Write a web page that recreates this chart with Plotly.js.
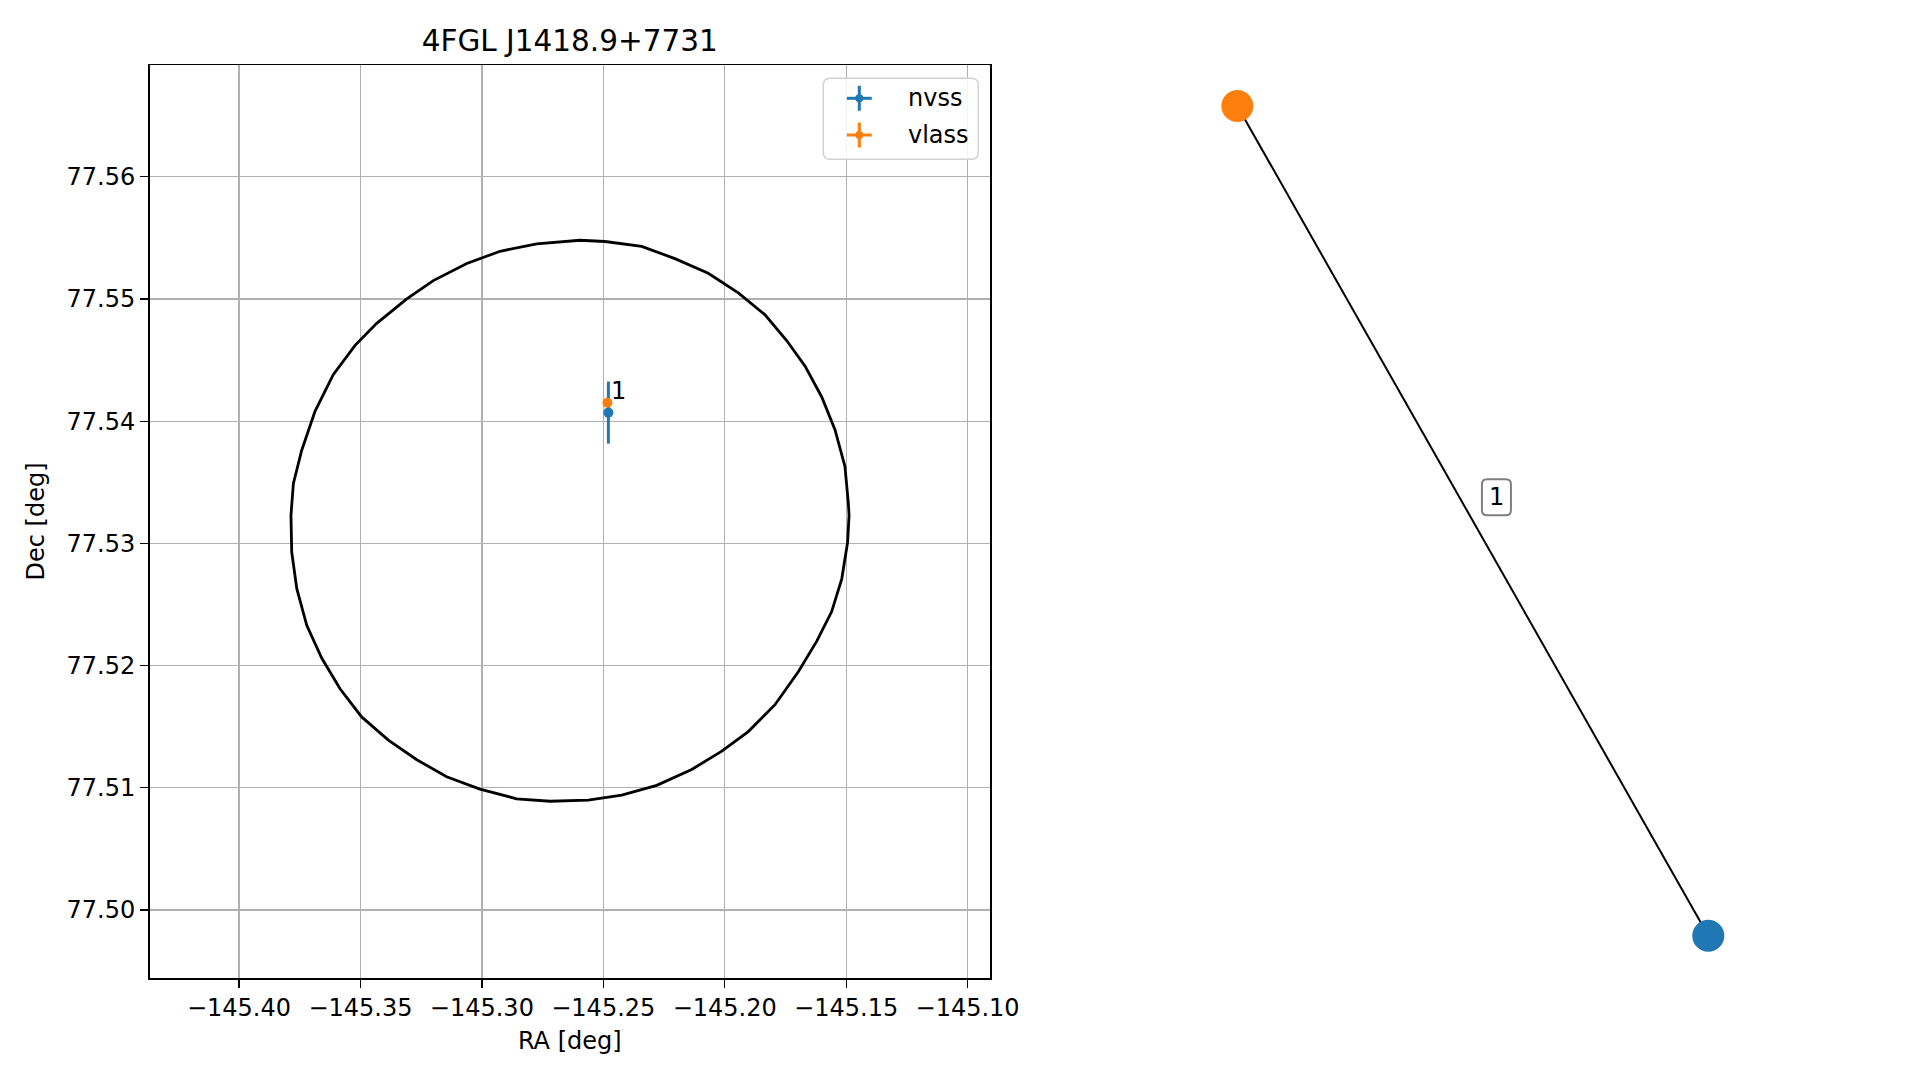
<!DOCTYPE html>
<html><head><meta charset="utf-8">
<script src="https://cdn.plot.ly/plotly-3.0.1.min.js"></script>
<style>html,body{margin:0;padding:0;background:#fff}#chart{width:1919px;height:1080px}</style>
</head><body><div id="chart"></div>
<script>
// ---------- data ----------
const circleRA = [-145.2493, -145.2596, -145.2774, -145.2925, -145.3062, -145.3200, -145.3309, -145.3433, -145.3522, -145.3612, -145.3687, -145.3742, -145.3776, -145.3786, -145.3783, -145.3762, -145.3721, -145.3659, -145.3584, -145.3495, -145.3385, -145.3268, -145.3145, -145.3008, -145.2857, -145.2719, -145.2562, -145.2424, -145.2280, -145.2136, -145.2012, -145.1903, -145.1793, -145.1697, -145.1621, -145.1560, -145.1518, -145.1494, -145.1488, -145.1491, -145.1505, -145.1546, -145.1601, -145.1669, -145.1745, -145.1834, -145.1944, -145.2068, -145.2205, -145.2342];
const circleDec = [77.5547, 77.5548, 77.5545, 77.5539, 77.5529, 77.5515, 77.5500, 77.5480, 77.5462, 77.5438, 77.5408, 77.5376, 77.5349, 77.5323, 77.5293, 77.5263, 77.5233, 77.5206, 77.5181, 77.5158, 77.5139, 77.5123, 77.5109, 77.5099, 77.5091, 77.5089, 77.5090, 77.5094, 77.5102, 77.5115, 77.5130, 77.5146, 77.5168, 77.5195, 77.5220, 77.5244, 77.5271, 77.5301, 77.5323, 77.5333, 77.5363, 77.5393, 77.5420, 77.5445, 77.5466, 77.5487, 77.5505, 77.5521, 77.5533, 77.5543];

const nvssRA = [-145.2479];
const nvssDec = [77.5407];
const nvssRAerr = [0.0005];
const nvssDecErr = [0.00254];

const vlassRA = [-145.2483];
const vlassDec = [77.5415];
const vlassRAerr = [0.0002];
const vlassDecErr = [0.0002];

const matchLabels = ['1'];
const matchLabelRA = [-145.2478];
const matchLabelDec = [77.5425];

const nodeNames = ['vlass 1', 'nvss 1'];
const nodeX = [-0.5677, 0.5677];
const nodeY = [1.0, -1.0];
const nodeColors = ['#ff7f0e', '#1f77b4'];
const edgeLabels = ['1'];
const edgeLabelX = [0.057];
const edgeLabelY = [0.057];

const legendNames = ['nvss', 'vlass'];
const legendColors = ['#1f77b4', '#ff7f0e'];

const titleText = '4FGL J1418.9+7731';
const xTitle = 'RA [deg]';
const yTitle = 'Dec [deg]';

// ---------- layout helpers ----------
const W = 1919, H = 1080;
const px = v => v / W;
const py = v => 1 - v / H;
const FONT = 'DejaVu Sans';
const FS = 24;

// right panel scale (pixels per unit) used to size the rounded label box
const X2 = {range: [-1.1398, 1.0299], dom: [1000, 1900]};
const Y2 = {range: [-1.1020, 1.0988], dom: [65, 978]};
const ppuX = (X2.dom[1] - X2.dom[0]) / (X2.range[1] - X2.range[0]);
const ppuY = (Y2.dom[1] - Y2.dom[0]) / (Y2.range[1] - Y2.range[0]);

const traces = [
  {
    x: circleRA.concat([circleRA[0]]), y: circleDec.concat([circleDec[0]]),
    mode: 'lines', line: {color: '#000', width: 2.8},
    xaxis: 'x', yaxis: 'y', showlegend: false, hoverinfo: 'skip'
  },
  {
    name: 'nvss', x: nvssRA, y: nvssDec, mode: 'markers',
    marker: {color: '#1f77b4', size: 10},
    error_y: {type: 'data', array: nvssDecErr, color: '#1f77b4', thickness: 3, width: 0},
    error_x: {type: 'data', array: nvssRAerr, color: '#1f77b4', thickness: 3, width: 0},
    xaxis: 'x', yaxis: 'y', showlegend: false
  },
  {
    name: 'vlass', x: vlassRA, y: vlassDec, mode: 'markers',
    marker: {color: '#ff7f0e', size: 10},
    error_y: {type: 'data', array: vlassDecErr, color: '#ff7f0e', thickness: 3, width: 0},
    error_x: {type: 'data', array: vlassRAerr, color: '#ff7f0e', thickness: 3, width: 0},
    xaxis: 'x', yaxis: 'y', showlegend: false
  },
  {
    x: nodeX, y: nodeY, mode: 'lines', line: {color: '#000', width: 2},
    xaxis: 'x2', yaxis: 'y2', showlegend: false, hoverinfo: 'skip'
  },
  {
    x: nodeX, y: nodeY, text: nodeNames, mode: 'markers',
    marker: {color: nodeColors, size: 32, line: {width: 0}},
    xaxis: 'x2', yaxis: 'y2', showlegend: false
  }
];

const axisCommon = {
  ticks: 'outside', ticklen: 8, tickwidth: 1.3, tickcolor: '#000',
  showline: true, linecolor: '#000', linewidth: 1.5, mirror: true,
  showgrid: true, gridcolor: '#b0b0b0', gridwidth: 1.3, zeroline: false,
  tickfont: {family: FONT, size: FS, color: '#000'},
  automargin: false, fixedrange: true
};

const annotations = [];
const shapes = [];

function roundRect(x0, x1, yT, yB, rx, ry) {
  return `M${x0+rx},${yT} L${x1-rx},${yT} Q${x1},${yT} ${x1},${yT-ry} L${x1},${yB+ry} Q${x1},${yB} ${x1-rx},${yB} L${x0+rx},${yB} Q${x0},${yB} ${x0},${yB+ry} L${x0},${yT-ry} Q${x0},${yT} ${x0+rx},${yT} Z`;
}

matchLabels.forEach((t, i) => annotations.push({
  x: matchLabelRA[i], y: matchLabelDec[i], xref: 'x', yref: 'y', text: t,
  showarrow: false, xanchor: 'left', yanchor: 'middle',
  font: {family: FONT, size: FS, color: '#000'}
}));

// edge labels: rounded box + text
const box = {w: 29, h: 36, r: 5};
edgeLabels.forEach((t, i) => {
  const hx = box.w / 2 / ppuX, hy = box.h / 2 / ppuY;
  const cx = edgeLabelX[i], cy = edgeLabelY[i];
  shapes.push({type: 'path', xref: 'x2', yref: 'y2', layer: 'above',
    path: roundRect(cx - hx, cx + hx, cy + hy, cy - hy, box.r / ppuX, box.r / ppuY),
    fillcolor: '#fff', line: {color: '#7f7f7f', width: 2}});
  annotations.push({
    x: cx, y: cy, xref: 'x2', yref: 'y2', text: t,
    showarrow: false, xanchor: 'center', yanchor: 'middle',
    font: {family: FONT, size: FS, color: '#000'}
  });
});

// legend (drawn manually to reproduce the errorbar cross symbols)
const lg = {x0: 823.3, x1: 978.3, y0: 78.3, y1: 159.3, r: 7, symX: 859.3, textX: 906, rows: [98.3, 135], arm: 12.5, dot: 4};
shapes.push({type: 'path', xref: 'paper', yref: 'paper', layer: 'above',
  path: roundRect(px(lg.x0), px(lg.x1), py(lg.y0), py(lg.y1), lg.r / W, lg.r / H),
  fillcolor: 'rgba(255,255,255,0.85)', line: {color: '#d0d0d0', width: 1.4}});
legendNames.forEach((n, i) => {
  const cy = lg.rows[i], c = legendColors[i];
  shapes.push({type: 'line', xref: 'paper', yref: 'paper', layer: 'above',
    x0: px(lg.symX - lg.arm), x1: px(lg.symX + lg.arm), y0: py(cy), y1: py(cy), line: {color: c, width: 3}});
  shapes.push({type: 'line', xref: 'paper', yref: 'paper', layer: 'above',
    x0: px(lg.symX), x1: px(lg.symX), y0: py(cy - lg.arm), y1: py(cy + lg.arm), line: {color: c, width: 3}});
  shapes.push({type: 'circle', xref: 'paper', yref: 'paper', layer: 'above',
    x0: px(lg.symX - lg.dot), x1: px(lg.symX + lg.dot), y0: py(cy - lg.dot), y1: py(cy + lg.dot),
    fillcolor: c, line: {width: 0}});
  annotations.push({x: px(lg.textX), y: py(cy), xref: 'paper', yref: 'paper', text: n,
    showarrow: false, xanchor: 'left', yanchor: 'middle', font: {family: FONT, size: FS, color: '#000'}});
});

const layout = {
  width: W, height: H,
  margin: {l: 0, r: 0, t: 0, b: 0},
  paper_bgcolor: '#fff', plot_bgcolor: '#fff',
  showlegend: false,
  title: {text: titleText, font: {family: FONT, size: 29.5, color: '#000'},
    x: px(569.75), xref: 'container', xanchor: 'center', y: py(40.4), yref: 'container', yanchor: 'middle'},
  xaxis: Object.assign({}, axisCommon, {
    domain: [px(149.5), px(990)], range: [-145.43685, -145.09077],
    tick0: -145.40, dtick: 0.05, tickformat: '.2f', anchor: 'y',
    title: {text: xTitle, font: {family: FONT, size: FS, color: '#000'}, standoff: 11}
  }),
  yaxis: Object.assign({}, axisCommon, {
    domain: [py(978), py(65)], range: [77.49444, 77.56914],
    tick0: 77.50, dtick: 0.01, tickformat: '.2f', anchor: 'x',
    title: {text: yTitle, font: {family: FONT, size: FS, color: '#000'}, standoff: 15}
  }),
  xaxis2: {domain: [px(X2.dom[0]), px(X2.dom[1])], range: X2.range, visible: false, anchor: 'y2', fixedrange: true},
  yaxis2: {domain: [py(Y2.dom[1]), py(Y2.dom[0])], range: Y2.range, visible: false, anchor: 'x2', fixedrange: true},
  shapes: shapes,
  annotations: annotations
};

Plotly.newPlot('chart', traces, layout, {displayModeBar: false, staticPlot: true});
</script>
</body></html>
